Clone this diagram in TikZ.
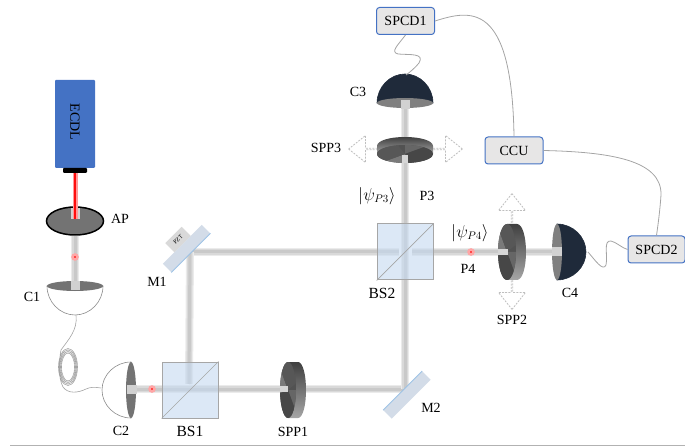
\documentclass[tikz,border=0pt]{standalone}
\usepackage{amsmath}
\usepackage{fontspec}
\setmainfont{Liberation Serif}
\usetikzlibrary{arrows,calc,positioning,shapes}
\definecolor{ecdlblue}{HTML}{4472C4}
\definecolor{boxgrey}{HTML}{E7E6E6}
\definecolor{cubeblue}{HTML}{C5D9F0}
\definecolor{mirrorgrey}{HTML}{D3DCE8}
\definecolor{mirroredge}{HTML}{9CC2E5}
\definecolor{domedark}{HTML}{1F2A3A}
\definecolor{wiregrey}{HTML}{A4A4A4}

\begin{document}
\begin{tikzpicture}[x=1pt,y=-1pt,% pixel coordinates of the picture
			every node/.style={
				align=center,
				inner sep=0pt,
				font=\fontsize{14}{16}\selectfont
			},
			ctrlbox/.style={rectangle,rounded corners=3pt,draw=ecdlblue,line width=1pt,fill=boxgrey,minimum width=58pt,minimum height=27pt},
			cube/.style={rectangle,draw=black!35,line width=1pt,fill=cubeblue,fill opacity=.6,minimum size=56pt},
			mirror/.style={rectangle,fill=mirrorgrey,rotate=45,minimum width=55pt,minimum height=12pt},
			reddot/.style={circle,fill=red!80,minimum size=5pt,draw=red!35,line width=2.5pt},
			shiftarrow/.style={single arrow,draw=black!25,dash pattern=on 2pt off 1.2pt,line width=.8pt,fill=white,anchor=tail,
				minimum height=29pt,minimum width=27pt,single arrow head extend=7pt,single arrow tip angle=77},
			beam/.style={draw=black!8,line width=8pt,postaction={draw=black!15,line width=5.5pt},postaction={draw=black!21,line width=3pt}},
			stub/.style={draw=black!18,line width=9pt},
			redbeam/.style={draw=red!40,line width=5pt,postaction={draw=red!95,line width=2.5pt}},
			wire/.style={draw=wiregrey,line width=.8pt},
			% hemisphere of a collimator: #1 dome fill, #2 rim fill, #3 outline
			pics/colldome/.style n args={3}{code={
				\path[fill=#1,draw=#3,line width=.6pt] (-28,0) .. controls (-28,-16) and (-15,-29) .. (0,-29)
					.. controls (15,-29) and (28,-16) .. (28,0) -- cycle;
				\fill[#2] (0,0) circle [x radius=28pt,y radius=5pt];
			}},
			% phase plate: #1 half width of the face, #2 half height, #3 thickness
			pics/sppdisc/.style n args={3}{code={
				\path[top color=black!75,bottom color=black!35] (0,-#2) -- (#3,-#2)
					.. controls (#3+.6*#1,-#2) and (#3+#1,-.55*#2) .. (#3+#1,0)
					.. controls (#3+#1,.55*#2) and (#3+.6*#1,#2) .. (#3,#2) -- (0,#2) -- cycle;
				\begin{scope}
					\clip (0,0) circle [x radius=#1 pt,y radius=#2 pt];
					\fill[black!68] (-#1,-#2) rectangle (#1,#2);
					\foreach \sa/\sb/\tone in {0/70/60,70/160/72,160/250/52,250/320/66}{
						\fill[black!\tone] (0,0) -- (\sa:3*#2) -- (\sb:3*#2) -- cycle;
					}
				\end{scope}
			}}
		]
		\useasboundingbox (0,0) rectangle (685,446);

		% free ends of the connectors
		\coordinate (M1c) at (190,252);
		\coordinate (M2c) at (405,389);
		\coordinate (C1tip) at (76,315);
		\coordinate (C2tip) at (101,388);
		\coordinate (C3tip) at (406,75);
		\coordinate (C4tip) at (588,252);
		\coordinate (C1rim) at (75,281);
		\coordinate (C2rim) at (127,389);
		\coordinate (C3rim) at (405,100);
		\coordinate (C4rim) at (562,252);
		\coordinate (SPP1c) at (288,389);
		\coordinate (SPP2c) at (508,252);
		\coordinate (SPP3c) at (405,155);
		\coordinate (APc) at (75,219);
		\coordinate (BS2gap) at (399,252);
		\coordinate (BS2out) at (412,252);

		% collimators
		\pic at (75,286) [rotate=180] {colldome={white}{black!55}{black!45}};
		\pic at (131,390) [rotate=90] {colldome={white}{black!55}{black!45}};
		\pic at (405,103) {colldome={domedark}{black!50}{domedark}};
		\pic at (557,252) [rotate=-90] {colldome={domedark}{black!50}{domedark}};

		% laser and aperture
		\node[rectangle,rounded corners=1pt,fill=ecdlblue,minimum width=40pt,minimum height=88pt](ECDL) at (75,124){};
		\node[rotate=-90] (ECDLtext) at (75,122) {ECDL};
		\node[rectangle,rounded corners=1pt,fill=black,minimum width=24pt,minimum height=5pt](ECDLout) at (75,170.5){};
		\node[ellipse,draw=black,line width=1.5pt,fill=black!55,minimum width=57pt,minimum height=28pt](AP) at (75,221){};

		% beams
		\path[beam] (AP.south) -- (C1rim);
		\path[beam] (C2rim) -- (M2c);
		\path[beam] (M2c) -- (C3rim);
		\path[beam] (M1c) -- (BS2gap);
		\path[beam] (BS2out) -- (C4rim);
		\path[beam] (M1c) -- (189,384);
		\path[stub] (75,208) -- (APc);
		\path[stub] (75,290) -- (C1rim);
		\path[stub] (137,389) -- (C2rim);
		\path[stub] (405,109) -- (C3rim);
		\path[stub] (552,252) -- (C4rim);
		\path[redbeam] (ECDLout.south) -- (APc);

		% phase plates and their shift arrows
		\foreach \ax/\ay/\aang in {512/223/90,512/280/-90,378/149/180,433/149/0}{
			\node[shiftarrow,rotate=\aang] at (\ax,\ay) {};
		}
		\pic at (288,390) {sppdisc={8}{28}{10}};
		\pic at (507,252) {sppdisc={9}{28}{10}};
		\pic at (405,154) [rotate=90] {sppdisc={9}{28}{8}};
		\path[draw=black!16,line width=6.5pt] (280,389) -- (SPP1c);
		\path[draw=black!16,line width=6.5pt] (498,252) -- (SPP2c);
		\path[draw=black!16,line width=6.5pt] (405,163) -- (SPP3c);

		% beam splitters
		\node[cube](BS1box) at (190,390){};
		\node[cube](BS2box) at (405,252){};
		\draw[black!35,line width=.7pt] (BS1box.south west) -- (BS1box.north east);
		\draw[black!35,line width=.7pt] (BS2box.south west) -- (BS2box.north east);

		% mirrors
		\node[mirror](M1) at (186.5,248.5){};
		\node[mirror](M2) at (407,395){};
		\draw[mirroredge,line width=.8pt] (M1.south west) -- (M1.south east);
		\draw[mirroredge,line width=.8pt] (M2.north west) -- (M2.north east);
		\node[rectangle,fill=black!15,rotate=45,minimum width=23pt,minimum height=13pt,font=\fontsize{6}{7}\selectfont](PZT) at (178,239.5){PZT};

		% sample points
		\node[reddot](P1dot) at (75,257){};
		\node[reddot](P2dot) at (152,389){};
		\node[reddot](P4dot) at (471,252){};

		% electronics
		\node[ctrlbox](SPCD1) at (405.5,21){SPCD1};
		\node[ctrlbox](CCU) at (514,150.5){CCU};
		\node[ctrlbox,minimum width=57pt](SPCD2) at (656.5,249.5){SPCD2};

		% fibres and cables
		\path[wire,line width=.6pt]
		(C1tip) .. controls (78,330) and (68,340) .. (61,350)
		(61,350) .. controls (59,360) and (58,378) .. (63,387)
		(63,387) .. controls (68,394) and (78,393) .. (86,389)
		(86,389) .. controls (90,387) and (95,387) .. (C2tip)
		(68,367) circle [x radius=6.5pt,y radius=14pt]
		(68,367) circle [x radius=7.5pt,y radius=15.5pt]
		(68,367) circle [x radius=8.5pt,y radius=17pt]
		(68,367) circle [x radius=9.5pt,y radius=18.5pt]
		;
		\path[wire]
		(SPCD1.east) .. controls (470,10) and (512,0) .. (CCU.north)
		(CCU.east) .. controls (610,152) and (662,160) .. (661,195)
		(661,195) .. controls (660,210) and (658,225) .. (SPCD2.north)
		(SPCD1.south) .. controls (398,45) and (390,52) .. (398,54)
		(398,54) .. controls (410,55) and (425,53) .. (419,63)
		(419,63) .. controls (415,68) and (410,72) .. (C3tip)
		(C4tip) .. controls (595,260) and (603,272) .. (606,265)
		(606,265) .. controls (608,255) and (603,240) .. (611,241)
		(611,241) .. controls (616,242) and (622,248) .. (SPCD2.west)
		;

		% labels
		\node(APlab) at (120,219){AP};
		\node(C1lab) at (32,297){C1};
		\node(C2lab) at (121,431){C2};
		\node(C3lab) at (358,92){C3};
		\node(C4lab) at (570,293){C4};
		\node(M1lab) at (157,282){M1};
		\node(M2lab) at (431,408){M2};
		\node[font=\fontsize{15.5}{17}\selectfont](BS1) at (190,431){BS1};
		\node[font=\fontsize{15.5}{17}\selectfont](BS2) at (382,293){BS2};
		\node(SPP1) at (293,432){SPP1};
		\node(SPP2) at (512,320){SPP2};
		\node(SPP3) at (326,148){SPP3};
		\node(P3) at (427,196){P3};
		\node(P4) at (468,269){P4};
		\node[font=\fontsize{16}{18}\selectfont](psiP3) at (377,196){$|\psi_{P3}\rangle$};
		\node[font=\fontsize{16}{18}\selectfont](psiP4) at (470,233){$|\psi_{P4}\rangle$};

		\coordinate (ruleL) at (10,445);
		\coordinate (ruleR) at (685,445);
		\draw[black!30,line width=.9pt] (ruleL) -- (ruleR);
	\end{tikzpicture}
\end{document}
